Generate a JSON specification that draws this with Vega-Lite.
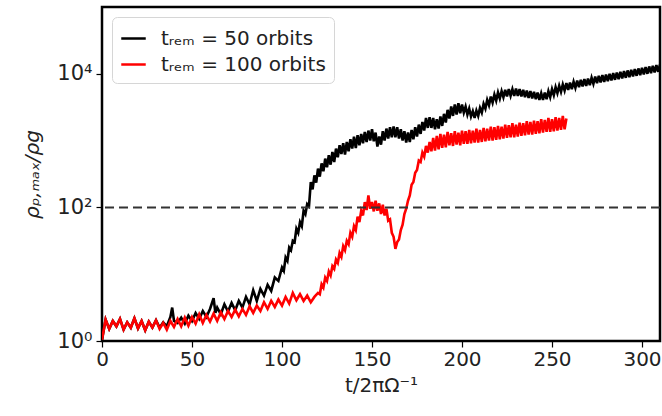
{
  "$schema": "https://vega.github.io/schema/vega-lite/v6.json",
  "width": 558,
  "height": 334,
  "autosize": {"type": "none"},
  "padding": {"left": 102, "top": 7, "right": 2, "bottom": 75},
  "background": "white",
  "config": {
    "font": "DejaVu Sans",
    "view": {"stroke": "black", "strokeWidth": 2.5},
    "axis": {"domain": false, "grid": false, "tickColor": "black", "tickWidth": 1.2, "tickSize": 6, "labelFontSize": 20, "labelColor": "#222", "titleFontSize": 20, "titleColor": "#222", "titleFontWeight": "normal", "labelFont": "DejaVu Sans", "titleFont": "DejaVu Sans", "labelFlush": false}
  },
  "datasets": {
    "black": [
      {"t":0,"logr":0.02},{"t":2,"logr":0.32},{"t":4,"logr":0.18},{"t":6,"logr":0.30},{"t":8,"logr":0.22},{"t":10,"logr":0.33},{"t":12,"logr":0.17},{"t":14,"logr":0.28},{"t":16,"logr":0.20},{"t":18,"logr":0.34},{"t":20,"logr":0.19},{"t":22,"logr":0.30},{"t":24,"logr":0.16},{"t":26,"logr":0.29},{"t":28,"logr":0.20},{"t":30,"logr":0.31},
      {"t":32,"logr":0.20},{"t":34,"logr":0.28},{"t":36,"logr":0.22},{"t":38,"logr":0.36},{"t":39,"logr":0.50},{"t":40,"logr":0.30},{"t":42,"logr":0.27},{"t":44,"logr":0.35},{"t":46,"logr":0.26},{"t":48,"logr":0.38},{"t":50,"logr":0.30},{"t":52,"logr":0.42},{"t":54,"logr":0.33},{"t":56,"logr":0.45},{"t":58,"logr":0.36},{"t":60,"logr":0.48},{"t":62,"logr":0.64},{"t":63,"logr":0.42},{"t":64,"logr":0.50},{"t":66,"logr":0.40},{"t":68,"logr":0.55},{"t":70,"logr":0.44},{"t":72,"logr":0.57},{"t":74,"logr":0.46},{"t":76,"logr":0.60},{"t":78,"logr":0.50},{"t":80,"logr":0.66},{"t":82,"logr":0.55},{"t":84,"logr":0.76},{"t":86,"logr":0.60},{"t":88,"logr":0.78},{"t":90,"logr":0.68},{"t":92,"logr":0.84},{"t":94,"logr":0.75},{"t":96,"logr":0.95},{"t":98,"logr":0.90},
      {"t":100,"logr":1.10},{"t":101,"logr":1.05},{"t":102,"logr":1.25},{"t":103,"logr":1.20},{"t":104,"logr":1.40},{"t":105,"logr":1.36},{"t":106,"logr":1.50},{"t":107,"logr":1.48},{"t":108,"logr":1.68},{"t":109,"logr":1.62},{"t":110,"logr":1.78},{"t":111,"logr":1.72},{"t":112,"logr":1.95},{"t":113,"logr":1.90},{"t":114,"logr":2.05},{"t":115,"logr":2.02},
      {"t":116,"logr":2.38},{"t":117,"logr":2.27},{"t":118,"logr":2.48},{"t":119,"logr":2.37},{"t":120,"logr":2.58},{"t":121,"logr":2.46},{"t":122,"logr":2.66},{"t":123,"logr":2.54},{"t":124,"logr":2.73},{"t":125,"logr":2.60},{"t":126,"logr":2.78},{"t":127,"logr":2.64},{"t":128,"logr":2.83},{"t":129,"logr":2.68},{"t":130,"logr":2.88},{"t":131,"logr":2.75},{"t":132,"logr":2.93},{"t":133,"logr":2.80},{"t":134,"logr":2.96},{"t":135,"logr":2.79},{"t":136,"logr":2.98},{"t":137,"logr":2.84},{"t":138,"logr":3.02},{"t":139,"logr":2.88},{"t":140,"logr":3.06},{"t":141,"logr":2.89},{"t":142,"logr":3.08},{"t":143,"logr":2.93},{"t":144,"logr":3.10},{"t":145,"logr":2.96},{"t":146,"logr":3.13},{"t":147,"logr":2.98},{"t":148,"logr":3.15},{"t":149,"logr":3.00},{"t":150,"logr":3.17},{"t":151,"logr":2.99},{"t":152,"logr":3.12},{"t":153,"logr":2.91},{"t":154,"logr":3.06},{"t":155,"logr":2.94},{"t":156,"logr":3.14},{"t":157,"logr":3.00},{"t":158,"logr":3.18},{"t":159,"logr":3.03},{"t":160,"logr":3.20},{"t":161,"logr":3.05},{"t":162,"logr":3.21},{"t":163,"logr":3.05},{"t":164,"logr":3.20},{"t":165,"logr":3.03},{"t":166,"logr":3.17},{"t":167,"logr":3.00},{"t":168,"logr":3.14},{"t":169,"logr":2.97},{"t":170,"logr":3.12},{"t":171,"logr":2.98},{"t":172,"logr":3.16},{"t":173,"logr":3.02},{"t":174,"logr":3.20},{"t":175,"logr":3.06},{"t":176,"logr":3.24},{"t":177,"logr":3.10},{"t":178,"logr":3.28},{"t":179,"logr":3.15},{"t":180,"logr":3.34},{"t":181,"logr":3.19},{"t":182,"logr":3.35},{"t":183,"logr":3.19},{"t":184,"logr":3.34},{"t":185,"logr":3.17},{"t":186,"logr":3.32},{"t":187,"logr":3.18},{"t":188,"logr":3.36},{"t":189,"logr":3.22},{"t":190,"logr":3.40},{"t":191,"logr":3.27},{"t":192,"logr":3.46},{"t":193,"logr":3.33},{"t":194,"logr":3.51},{"t":195,"logr":3.37},{"t":196,"logr":3.54},{"t":197,"logr":3.39},{"t":198,"logr":3.56},{"t":199,"logr":3.41},
      {"t":200,"logr":3.54},{"t":201,"logr":3.42},{"t":202,"logr":3.51},{"t":203,"logr":3.39},{"t":204,"logr":3.48},{"t":205,"logr":3.36},{"t":206,"logr":3.44},{"t":207,"logr":3.34},{"t":208,"logr":3.45},{"t":209,"logr":3.37},{"t":210,"logr":3.49},{"t":211,"logr":3.42},{"t":212,"logr":3.55},{"t":213,"logr":3.48},{"t":214,"logr":3.61},{"t":215,"logr":3.53},{"t":216,"logr":3.66},{"t":217,"logr":3.57},{"t":218,"logr":3.69},{"t":219,"logr":3.60},{"t":220,"logr":3.72},{"t":221,"logr":3.63},{"t":222,"logr":3.74},{"t":223,"logr":3.65},{"t":224,"logr":3.76},{"t":225,"logr":3.66},{"t":226,"logr":3.77},{"t":227,"logr":3.67},{"t":228,"logr":3.77},{"t":229,"logr":3.67},{"t":230,"logr":3.78},{"t":231,"logr":3.67},{"t":232,"logr":3.77},{"t":233,"logr":3.66},{"t":234,"logr":3.76},{"t":235,"logr":3.65},{"t":236,"logr":3.75},{"t":237,"logr":3.64},{"t":238,"logr":3.74},{"t":239,"logr":3.63},{"t":240,"logr":3.73},{"t":241,"logr":3.62},{"t":242,"logr":3.72},{"t":243,"logr":3.61},{"t":244,"logr":3.71},{"t":245,"logr":3.61},{"t":246,"logr":3.72},{"t":247,"logr":3.62},{"t":248,"logr":3.74},{"t":249,"logr":3.65},{"t":250,"logr":3.77},{"t":251,"logr":3.68},{"t":252,"logr":3.80},{"t":253,"logr":3.71},{"t":254,"logr":3.82},{"t":255,"logr":3.73},{"t":256,"logr":3.84},{"t":257,"logr":3.75},{"t":258,"logr":3.86},{"t":259,"logr":3.76},{"t":260,"logr":3.87},{"t":261,"logr":3.77},{"t":262,"logr":3.88},{"t":263,"logr":3.79},{"t":264,"logr":3.90},{"t":265,"logr":3.80},{"t":266,"logr":3.91},{"t":267,"logr":3.81},{"t":268,"logr":3.92},{"t":269,"logr":3.82},{"t":270,"logr":3.93},{"t":271,"logr":3.83},{"t":272,"logr":3.94},{"t":273,"logr":3.85},{"t":274,"logr":3.96},{"t":275,"logr":3.86},{"t":276,"logr":3.97},{"t":277,"logr":3.87},{"t":278,"logr":3.98},{"t":279,"logr":3.88},{"t":280,"logr":3.99},{"t":281,"logr":3.89},{"t":282,"logr":4.00},{"t":283,"logr":3.90},{"t":284,"logr":4.01},{"t":285,"logr":3.91},{"t":286,"logr":4.02},{"t":287,"logr":3.92},{"t":288,"logr":4.03},{"t":289,"logr":3.93},{"t":290,"logr":4.04},{"t":291,"logr":3.94},{"t":292,"logr":4.05},{"t":293,"logr":3.95},{"t":294,"logr":4.06},{"t":295,"logr":3.96},{"t":296,"logr":4.07},{"t":297,"logr":3.97},{"t":298,"logr":4.08},{"t":299,"logr":3.98},{"t":300,"logr":4.09},{"t":301,"logr":3.99},{"t":302,"logr":4.10},{"t":303,"logr":4.00},{"t":304,"logr":4.11},{"t":305,"logr":4.01},{"t":306,"logr":4.12},{"t":307,"logr":4.02},{"t":308,"logr":4.13},{"t":309,"logr":4.03},{"t":310,"logr":4.14}
    ],
    "red": [
      {"t":0,"logr":0.02},{"t":2,"logr":0.32},{"t":4,"logr":0.18},{"t":6,"logr":0.30},{"t":8,"logr":0.22},{"t":10,"logr":0.33},{"t":12,"logr":0.17},{"t":14,"logr":0.28},{"t":16,"logr":0.20},{"t":18,"logr":0.34},{"t":20,"logr":0.19},{"t":22,"logr":0.30},{"t":24,"logr":0.16},{"t":26,"logr":0.29},{"t":28,"logr":0.20},{"t":30,"logr":0.31},{"t":32,"logr":0.18},{"t":34,"logr":0.27},{"t":36,"logr":0.17},{"t":38,"logr":0.30},{"t":40,"logr":0.21},{"t":42,"logr":0.33},{"t":44,"logr":0.22},{"t":46,"logr":0.35},{"t":48,"logr":0.23},{"t":50,"logr":0.36},{"t":52,"logr":0.26},{"t":54,"logr":0.40},{"t":56,"logr":0.27},{"t":58,"logr":0.39},{"t":60,"logr":0.29},{"t":62,"logr":0.41},{"t":64,"logr":0.30},{"t":66,"logr":0.43},{"t":68,"logr":0.33},{"t":70,"logr":0.45},{"t":72,"logr":0.36},{"t":74,"logr":0.47},{"t":76,"logr":0.37},{"t":78,"logr":0.48},{"t":80,"logr":0.39},{"t":82,"logr":0.52},{"t":84,"logr":0.42},{"t":86,"logr":0.53},{"t":88,"logr":0.45},{"t":90,"logr":0.58},{"t":92,"logr":0.48},{"t":94,"logr":0.60},{"t":96,"logr":0.51},{"t":98,"logr":0.62},{"t":100,"logr":0.53},{"t":102,"logr":0.66},{"t":104,"logr":0.56},{"t":106,"logr":0.72},{"t":108,"logr":0.61},{"t":110,"logr":0.70},{"t":112,"logr":0.60},{"t":114,"logr":0.68},{"t":116,"logr":0.58},{"t":118,"logr":0.66},{"t":120,"logr":0.72},
      {"t":121,"logr":0.70},{"t":122,"logr":0.85},{"t":123,"logr":0.80},{"t":124,"logr":0.95},{"t":125,"logr":0.90},{"t":126,"logr":1.04},{"t":127,"logr":0.98},{"t":128,"logr":1.12},{"t":129,"logr":1.08},{"t":130,"logr":1.22},{"t":131,"logr":1.17},{"t":132,"logr":1.32},{"t":133,"logr":1.26},{"t":134,"logr":1.42},{"t":135,"logr":1.36},{"t":136,"logr":1.50},{"t":137,"logr":1.45},{"t":138,"logr":1.62},{"t":139,"logr":1.56},{"t":140,"logr":1.72},{"t":141,"logr":1.66},{"t":142,"logr":1.86},{"t":143,"logr":1.78},{"t":144,"logr":1.95},{"t":145,"logr":1.88},{"t":146,"logr":2.08},{"t":147,"logr":1.96},{"t":148,"logr":2.18},{"t":149,"logr":1.98},{"t":150,"logr":2.08},{"t":151,"logr":1.94},{"t":152,"logr":2.10},{"t":153,"logr":1.95},{"t":154,"logr":2.06},{"t":155,"logr":1.90},{"t":156,"logr":2.04},{"t":157,"logr":1.88},{"t":158,"logr":1.98},{"t":159,"logr":1.80},{"t":160,"logr":1.82},{"t":161,"logr":1.62},{"t":162,"logr":1.56},{"t":163,"logr":1.38},{"t":164,"logr":1.48},{"t":165,"logr":1.52},{"t":166,"logr":1.66},{"t":167,"logr":1.74},{"t":168,"logr":1.90},{"t":169,"logr":1.98},{"t":170,"logr":2.10},{"t":171,"logr":2.18},{"t":172,"logr":2.34},{"t":173,"logr":2.38},{"t":174,"logr":2.52},{"t":175,"logr":2.56},{"t":176,"logr":2.70},{"t":177,"logr":2.68},{"t":178,"logr":2.82},{"t":179,"logr":2.76},{"t":180,"logr":2.92},{"t":181,"logr":2.82},{"t":182,"logr":2.98},{"t":183,"logr":2.84},
      {"t":184,"logr":3.04},{"t":185,"logr":2.85},{"t":186,"logr":3.07},{"t":187,"logr":2.87},{"t":188,"logr":3.10},{"t":189,"logr":2.89},{"t":190,"logr":3.09},{"t":191,"logr":2.90},{"t":192,"logr":3.13},{"t":193,"logr":2.93},{"t":194,"logr":3.11},{"t":195,"logr":2.92},{"t":196,"logr":3.14},{"t":197,"logr":2.94},{"t":198,"logr":3.12},{"t":199,"logr":2.93},{"t":200,"logr":3.15},{"t":201,"logr":2.95},{"t":202,"logr":3.14},{"t":203,"logr":2.95},{"t":204,"logr":3.16},{"t":205,"logr":2.96},{"t":206,"logr":3.15},{"t":207,"logr":2.97},{"t":208,"logr":3.18},{"t":209,"logr":2.97},{"t":210,"logr":3.16},{"t":211,"logr":2.98},{"t":212,"logr":3.19},{"t":213,"logr":2.99},{"t":214,"logr":3.18},{"t":215,"logr":3.00},{"t":216,"logr":3.21},{"t":217,"logr":3.00},{"t":218,"logr":3.20},{"t":219,"logr":3.01},{"t":220,"logr":3.22},{"t":221,"logr":3.02},{"t":222,"logr":3.21},{"t":223,"logr":3.03},{"t":224,"logr":3.24},{"t":225,"logr":3.04},{"t":226,"logr":3.23},{"t":227,"logr":3.05},{"t":228,"logr":3.26},{"t":229,"logr":3.05},{"t":230,"logr":3.24},{"t":231,"logr":3.06},{"t":232,"logr":3.27},{"t":233,"logr":3.07},{"t":234,"logr":3.26},{"t":235,"logr":3.08},{"t":236,"logr":3.29},{"t":237,"logr":3.09},{"t":238,"logr":3.28},{"t":239,"logr":3.09},{"t":240,"logr":3.30},{"t":241,"logr":3.10},{"t":242,"logr":3.29},{"t":243,"logr":3.11},{"t":244,"logr":3.32},{"t":245,"logr":3.12},{"t":246,"logr":3.31},{"t":247,"logr":3.13},{"t":248,"logr":3.34},{"t":249,"logr":3.13},{"t":250,"logr":3.32},{"t":251,"logr":3.14},{"t":252,"logr":3.35},{"t":253,"logr":3.15},{"t":254,"logr":3.34},{"t":255,"logr":3.16},{"t":256,"logr":3.37},{"t":257,"logr":3.17},{"t":258,"logr":3.33}
    ]
  },
  "layer": [
    {
      "data": {"name": "black"},
      "transform": [{"calculate": "'50'", "as": "run"}],
      "mark": {"type": "line", "strokeWidth": 2.6, "clip": true},
      "encoding": {
        "x": {"field": "t", "type": "quantitative", "scale": {"domain": [0, 310], "nice": false, "zero": false},
          "axis": {"values": [0, 50, 100, 150, 200, 250, 300], "title": "t/2πΩ⁻¹", "labelPadding": 2, "titlePadding": 6}},
        "y": {"field": "logr", "type": "quantitative", "scale": {"domain": [0, 5], "nice": false, "zero": false},
          "axis": {"values": [0, 2, 4], "labelExpr": "datum.value == 0 ? '10⁰' : datum.value == 2 ? '10²' : '10⁴'", "title": "ρₚ,ₘₐₓ/ρg", "titleFontStyle": "italic", "labelFontSize": 21, "labelPadding": 4, "titlePadding": 14}},
        "color": {"field": "run", "type": "nominal",
          "scale": {"domain": ["50", "100"], "range": ["#000000", "#ff0000"]},
          "legend": {"title": null, "orient": "top-left", "offset": 10, "labelLimit": 0, "labelExpr": "'tᵣₑₘ = ' + datum.label + ' orbits'", "labelFontSize": 20, "labelColor": "#222", "symbolType": "stroke", "symbolSize": 600, "symbolStrokeWidth": 2.5, "fillColor": "white", "strokeColor": "#d6d6d6", "cornerRadius": 5, "padding": 8, "rowPadding": 2, "labelOffset": 14}}
      }
    },
    {
      "data": {"name": "red"},
      "transform": [{"calculate": "'100'", "as": "run"}],
      "mark": {"type": "line", "strokeWidth": 2.6, "clip": true},
      "encoding": {
        "x": {"field": "t", "type": "quantitative"},
        "y": {"field": "logr", "type": "quantitative"},
        "color": {"field": "run", "type": "nominal"}
      }
    },
    {
      "data": {"values": [{"level": 2}]},
      "mark": {"type": "rule", "color": "#333333", "strokeWidth": 2, "strokeDash": [9, 5]},
      "encoding": {"y": {"field": "level", "type": "quantitative"}}
    }
  ]
}
